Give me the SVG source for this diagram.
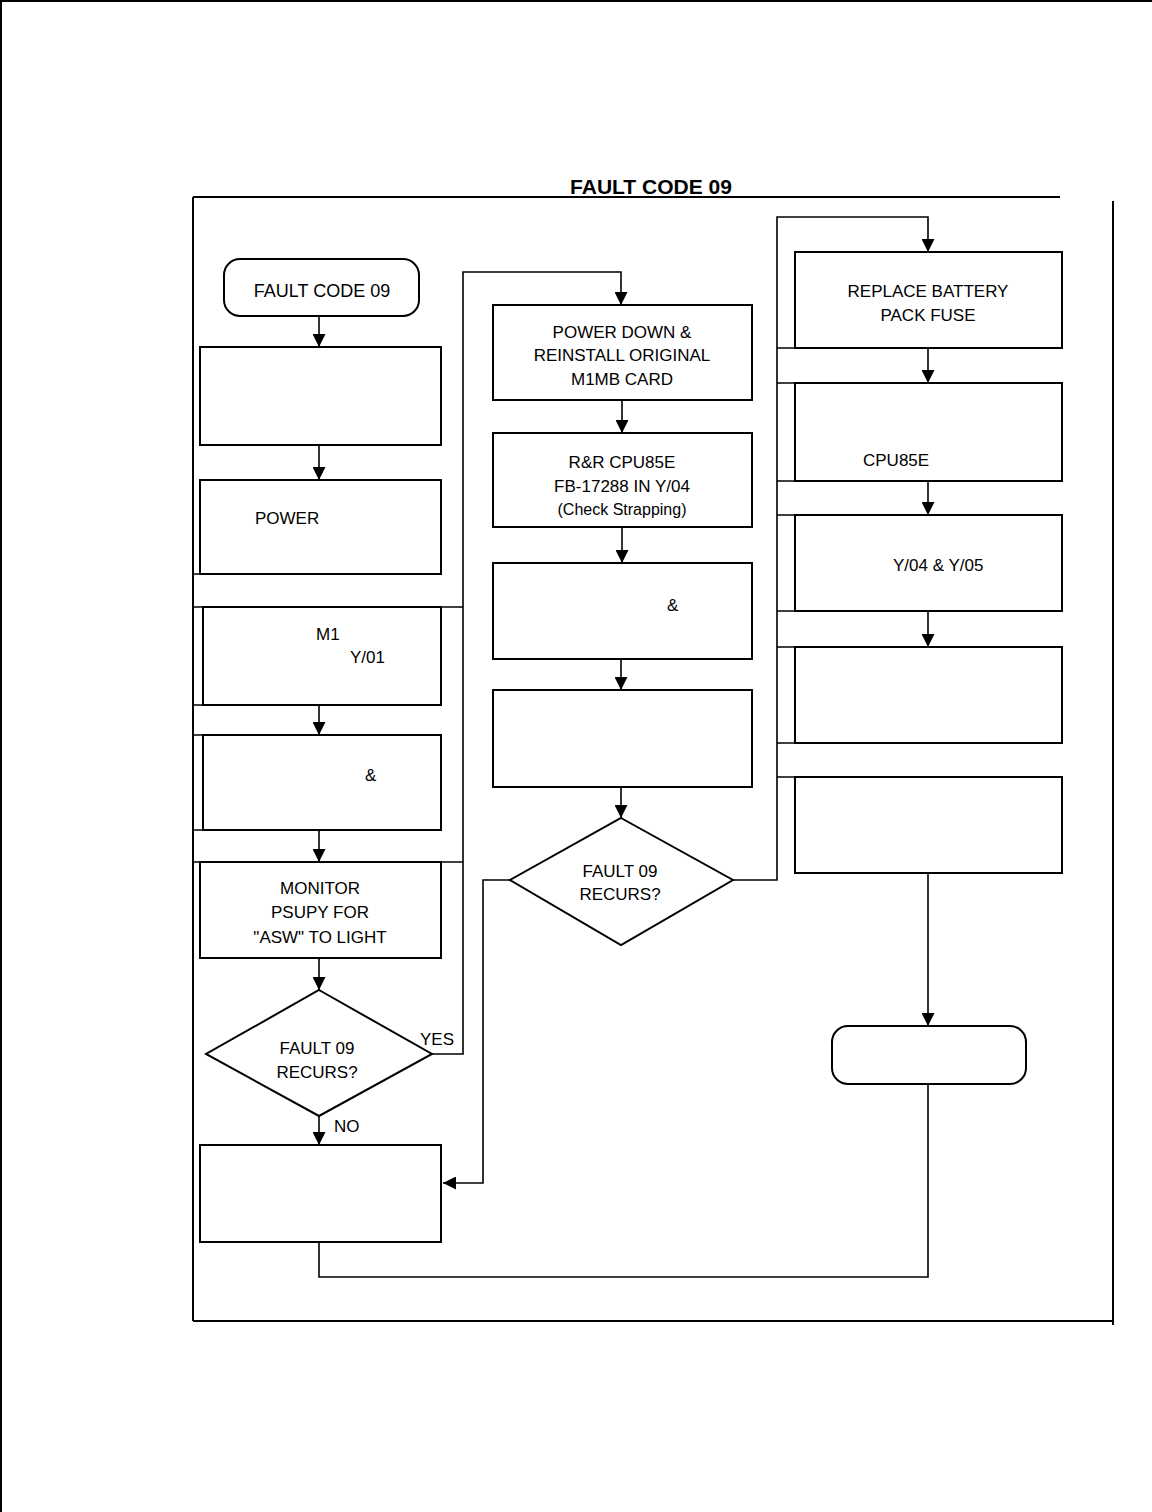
<svg xmlns="http://www.w3.org/2000/svg" width="1152" height="1512" viewBox="0 0 1152 1512">
<defs>
<marker id="ah" viewBox="0 0 10 10" refX="10" refY="5" markerWidth="13" markerHeight="13" markerUnits="userSpaceOnUse" orient="auto">
<path d="M0,0 L10,5 L0,10 z" fill="#000"/>
</marker>
</defs>
<style>
.box{fill:#fff;stroke:#000;stroke-width:2}
.ln{fill:none;stroke:#000;stroke-width:1.6}
.ar{fill:none;stroke:#000;stroke-width:1.6;marker-end:url(#ah)}
.ex{fill:none;stroke:#000;stroke-width:1.4}
.t{font-family:"Liberation Sans",Arial,sans-serif;font-size:17px;fill:#000;text-anchor:middle}
.ts{font-family:"Liberation Sans",Arial,sans-serif;font-size:17px;fill:#000}
.title{font-family:"Liberation Sans",Arial,sans-serif;font-size:21px;font-weight:bold;fill:#000;text-anchor:middle}
</style>
<rect width="1152" height="1512" fill="#fff"/>
<g id="page">
<line x1="0" y1="1" x2="1152" y2="1" stroke="#000" stroke-width="2"/>
<line x1="1" y1="0" x2="1" y2="1512" stroke="#000" stroke-width="2"/>
</g>
<g id="frame">
<line x1="193" y1="197" x2="1060" y2="197" stroke="#000" stroke-width="2"/>
<line x1="193" y1="197" x2="193" y2="1321" stroke="#000" stroke-width="2"/>
<line x1="193" y1="1321" x2="1113" y2="1321" stroke="#000" stroke-width="2"/>
<line x1="1113" y1="201" x2="1113" y2="1325" stroke="#000" stroke-width="2"/>
<text class="title" x="651" y="194">FAULT CODE 09</text>
</g>
<g id="extensions">
<line class="ex" x1="193" y1="574" x2="441" y2="574"/>
<line class="ex" x1="193" y1="607" x2="463" y2="607"/>
<line class="ex" x1="193" y1="705" x2="441" y2="705"/>
<line class="ex" x1="193" y1="735" x2="441" y2="735"/>
<line class="ex" x1="193" y1="830" x2="441" y2="830"/>
<line class="ex" x1="193" y1="862" x2="463" y2="862"/>
<line class="ex" x1="777" y1="348" x2="1062" y2="348"/>
<line class="ex" x1="777" y1="383" x2="1062" y2="383"/>
<line class="ex" x1="777" y1="481" x2="1062" y2="481"/>
<line class="ex" x1="777" y1="515" x2="1062" y2="515"/>
<line class="ex" x1="777" y1="611" x2="1062" y2="611"/>
<line class="ex" x1="777" y1="647" x2="1062" y2="647"/>
<line class="ex" x1="777" y1="743" x2="1062" y2="743"/>
<line class="ex" x1="777" y1="777" x2="1062" y2="777"/>
</g>
<g id="connectors">
<line class="ar" x1="319" y1="316" x2="319" y2="347"/>
<line class="ar" x1="319" y1="445" x2="319" y2="480"/>
<line class="ar" x1="319" y1="705" x2="319" y2="735"/>
<line class="ar" x1="319" y1="830" x2="319" y2="862"/>
<line class="ar" x1="319" y1="958" x2="319" y2="990"/>
<line class="ar" x1="319" y1="1116" x2="319" y2="1145"/>
<polyline class="ar" points="432,1054 463,1054 463,272 621,272 621,305"/>
<line class="ar" x1="622" y1="400" x2="622" y2="433"/>
<line class="ar" x1="622" y1="527" x2="622" y2="563"/>
<line class="ar" x1="621" y1="659" x2="621" y2="690"/>
<line class="ar" x1="621" y1="787" x2="621" y2="818"/>
<polyline class="ar" points="510,880 483,880 483,1183 443,1183"/>
<polyline class="ar" points="733,880 777,880 777,217 928,217 928,252"/>
<line class="ar" x1="928" y1="348" x2="928" y2="383"/>
<line class="ar" x1="928" y1="481" x2="928" y2="515"/>
<line class="ar" x1="928" y1="611" x2="928" y2="647"/>
<line class="ar" x1="928" y1="873" x2="928" y2="1026"/>
<polyline class="ln" points="319,1242 319,1277 928,1277 928,1084"/>
</g>
<g id="start">
<rect class="box" x="224" y="259" width="195" height="57" rx="16"/>
<text class="t" x="322" y="297" style="font-size:18px">FAULT CODE 09</text>
</g>
<g id="l1"><rect class="box" x="200" y="347" width="241" height="98"/></g>
<g id="l2"><rect class="box" x="200" y="480" width="241" height="94"/><text class="ts" x="255" y="524">POWER</text></g>
<g id="l3"><rect class="box" x="203" y="607" width="238" height="98"/><text class="ts" x="316" y="640">M1</text><text class="ts" x="350" y="663">Y/01</text></g>
<g id="l4"><rect class="box" x="203" y="735" width="238" height="95"/><text class="ts" x="365" y="781">&amp;</text></g>
<g id="l5"><rect class="box" x="200" y="862" width="241" height="96"/>
<text class="t" x="320" y="894">MONITOR</text><text class="t" x="320" y="918">PSUPY FOR</text><text class="t" x="320" y="943">"ASW" TO LIGHT</text></g>
<g id="d1"><polygon class="box" points="319,990 432,1054 319,1116 206,1054"/>
<text class="t" x="317" y="1054">FAULT 09</text><text class="t" x="317" y="1078">RECURS?</text>
<text class="ts" x="420" y="1045">YES</text><text class="ts" x="334" y="1132">NO</text></g>
<g id="l6"><rect class="box" x="200" y="1145" width="241" height="97"/></g>
<g id="m1"><rect class="box" x="493" y="305" width="259" height="95"/>
<text class="t" x="622" y="338">POWER DOWN &amp;</text><text class="t" x="622" y="361">REINSTALL ORIGINAL</text><text class="t" x="622" y="385">M1MB CARD</text></g>
<g id="m2"><rect class="box" x="493" y="433" width="259" height="94"/>
<text class="t" x="622" y="468">R&amp;R CPU85E</text><text class="t" x="622" y="492">FB-17288 IN Y/04</text><text class="t" x="622" y="515" style="font-size:16px">(Check Strapping)</text></g>
<g id="m3"><rect class="box" x="493" y="563" width="259" height="96"/><text class="ts" x="667" y="611">&amp;</text></g>
<g id="m4"><rect class="box" x="493" y="690" width="259" height="97"/></g>
<g id="d2"><polygon class="box" points="621,818 733,880 621,945 510,880"/>
<text class="t" x="620" y="877">FAULT 09</text><text class="t" x="620" y="900">RECURS?</text></g>
<g id="r1"><rect class="box" x="795" y="252" width="267" height="96"/>
<text class="t" x="928" y="297">REPLACE BATTERY</text><text class="t" x="928" y="321">PACK FUSE</text></g>
<g id="r2"><rect class="box" x="795" y="383" width="267" height="98"/><text class="ts" x="863" y="466">CPU85E</text></g>
<g id="r3"><rect class="box" x="795" y="515" width="267" height="96"/><text class="ts" x="893" y="571">Y/04 &amp; Y/05</text></g>
<g id="r4"><rect class="box" x="795" y="647" width="267" height="96"/></g>
<g id="r5"><rect class="box" x="795" y="777" width="267" height="96"/></g>
<g id="end"><rect class="box" x="832" y="1026" width="194" height="58" rx="16"/></g>
</svg>
